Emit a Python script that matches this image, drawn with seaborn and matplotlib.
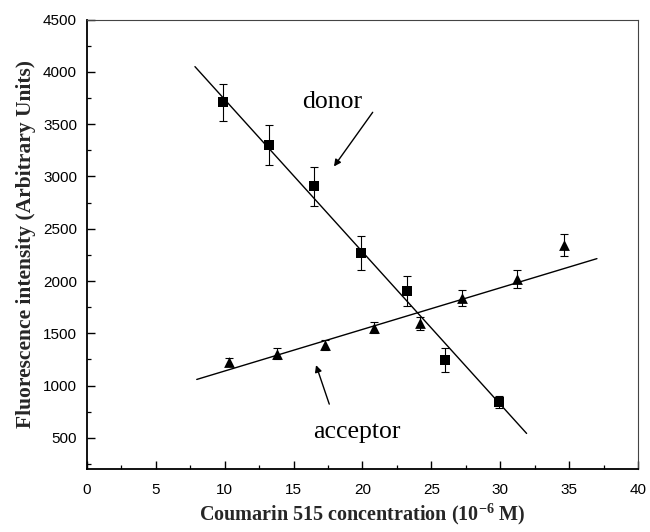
import numpy as np
import pandas as pd
import matplotlib
matplotlib.use("Agg")
import matplotlib.pyplot as plt
from matplotlib.ticker import MultipleLocator
import seaborn as sns

# ---- data ----
donor_x = [9.9, 13.2, 16.5, 19.9, 23.2, 26.0, 29.9]
donor_y = [3710, 3300, 2905, 2270, 1905, 1245, 845]
donor_err = [178, 188, 186, 163, 143, 111, 58]

acceptor_x = [10.3, 13.8, 17.3, 20.8, 24.2, 27.2, 31.2, 34.6]
acceptor_y = [1227, 1307, 1387, 1555, 1594, 1838, 2023, 2341]
acceptor_err = [40, 50, 50, 55, 65, 75, 87, 105]

# fitted lines (slope, intercept, x-range)
donor_fit = (-145.8, 5194.0)
donor_fit_range = [7.85, 31.9]
acceptor_fit = (39.8, 741.4)
acceptor_fit_range = [7.98, 37.0]

x_ticks = [0, 5, 10, 15, 20, 25, 30, 35, 40]
y_ticks = [500, 1000, 1500, 2000, 2500, 3000, 3500, 4000, 4500]

sns.set_theme(style="ticks")
plt.rcParams['font.family'] = ['Liberation Sans', 'DejaVu Sans']
plt.rcParams['mathtext.fontset'] = 'custom'
plt.rcParams['mathtext.rm'] = 'Liberation Serif:bold'
plt.rcParams['mathtext.bf'] = 'Liberation Serif:bold'
plt.rcParams['mathtext.default'] = 'bf'

fig = plt.figure(figsize=(6.5, 5.32), dpi=100)
ax = fig.add_axes([86.7 / 650, 1 - 469.3 / 532, (638.3 - 86.7) / 650, (469.3 - 19.5) / 532])

dfd = pd.DataFrame({"x": donor_x, "y": donor_y, "e": donor_err})
dfa = pd.DataFrame({"x": acceptor_x, "y": acceptor_y, "e": acceptor_err})

# fit lines
dfit = pd.DataFrame({"x": donor_fit_range})
dfit["y"] = donor_fit[0] * dfit["x"] + donor_fit[1]
afit = pd.DataFrame({"x": acceptor_fit_range})
afit["y"] = acceptor_fit[0] * afit["x"] + acceptor_fit[1]
sns.lineplot(data=dfit, x="x", y="y", ax=ax, color="black", lw=1.0)
sns.lineplot(data=afit, x="x", y="y", ax=ax, color="black", lw=1.0)

# error bars
ax.errorbar(dfd["x"], dfd["y"], yerr=dfd["e"], fmt="none", ecolor="black",
            elinewidth=0.8, capsize=3, capthick=0.8)
ax.errorbar(dfa["x"], dfa["y"], yerr=dfa["e"], fmt="none", ecolor="black",
            elinewidth=0.8, capsize=3, capthick=0.8)

# markers
sns.scatterplot(data=dfd, x="x", y="y", ax=ax, marker="s", s=45, color="black",
                edgecolor="black", linewidth=0, zorder=5)
sns.scatterplot(data=dfa, x="x", y="y", ax=ax, marker="^", s=60, color="black",
                edgecolor="black", linewidth=0, zorder=5)

ax.set_xlim(0, 40)
ax.set_ylim(200, 4500)
ax.set_xticks(x_ticks)
ax.set_yticks(y_ticks)
ax.xaxis.set_minor_locator(MultipleLocator(2.5))
ax.yaxis.set_minor_locator(MultipleLocator(250))
ax.tick_params(axis="both", which="major", direction="in", length=6, width=1.0,
               labelsize=11, color="black", labelcolor="black")
ax.tick_params(axis="both", which="minor", direction="in", length=3, width=0.9,
               color="black")
ax.tick_params(axis="x", which="major", pad=10)
ax.tick_params(axis="y", which="major", pad=7)

for side in ["left", "bottom"]:
    ax.spines[side].set_linewidth(1.3)
    ax.spines[side].set_color("black")
for side in ["top", "right"]:
    ax.spines[side].set_visible(True)
    ax.spines[side].set_linewidth(0.8)
    ax.spines[side].set_color("#444444")

ax.set_xlabel(r"Coumarin 515 concentration (10$^{-6}$ M)",
              fontfamily="Liberation Serif", fontweight="bold", fontsize=14.5, labelpad=3)
ax.set_ylabel("Fluorescence intensity (Arbitrary Units)",
              fontfamily="Liberation Serif", fontweight="bold", fontsize=15.5, labelpad=5)

# annotations
ax.text(17.8, 3708, "donor", fontfamily="Liberation Serif", fontsize=18.5,
        ha="center", va="center", color="black")
ax.annotate("", xy=(17.93, 3095), xytext=(20.74, 3613),
            arrowprops=dict(arrowstyle="-|>", color="black", lw=1.0, mutation_scale=10,
                            shrinkA=0, shrinkB=0))
ax.text(19.6, 558, "acceptor", fontfamily="Liberation Serif", fontsize=18.5,
        ha="center", va="center", color="black")
ax.annotate("", xy=(16.63, 1196), xytext=(17.59, 823),
            arrowprops=dict(arrowstyle="-|>", color="black", lw=1.0, mutation_scale=10,
                            shrinkA=0, shrinkB=0))

fig.savefig("out.png", dpi=100)
